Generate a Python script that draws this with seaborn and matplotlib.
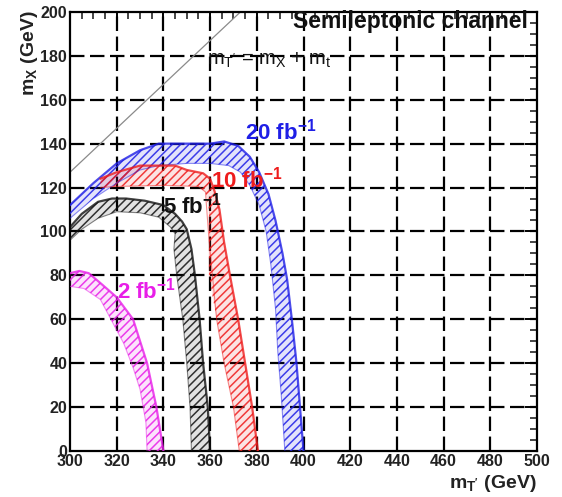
import numpy as np
import pandas as pd
import matplotlib
matplotlib.use("Agg")
import matplotlib.pyplot as plt
import seaborn as sns

# ---- data ----
blue_outer_x = [300, 310, 320, 330, 338, 350, 360, 366, 372, 377, 381, 385, 388, 391, 393, 395, 397, 398.5, 400]
blue_outer_y = [112, 122, 131, 137, 140, 140, 140, 141, 139, 134, 127, 117, 105, 90, 78, 60, 40, 20, 0]
blue_inner_x = [300, 310, 320, 330, 338, 350, 360, 368, 373, 377, 381, 384, 386, 388, 389, 390.5, 392]
blue_inner_y = [106, 115, 122, 128, 130, 131, 131, 130, 127, 121, 112, 100, 85, 65, 45, 25, 0]

red_outer_x = [313, 320, 330, 345, 350, 357, 360, 362, 364, 366, 368.5, 372, 375, 378, 380.5]
red_outer_y = [124, 127, 130, 130, 128, 126.5, 124, 118, 110, 95, 80, 60, 40, 20, 0]
red_inner_x = [313, 320, 340, 355, 358, 359.5, 359.5, 359.5, 362.8, 366, 370, 372.5]
red_inner_y = [120, 120.5, 121, 120.5, 118, 110, 100, 80, 60, 40, 20, 0]

black_outer_x = [300, 305, 312, 318, 324, 332, 340, 345, 348, 350, 352, 353.5, 355.5, 357, 359, 360]
black_outer_y = [102, 108, 113.5, 115, 115, 114, 112, 108, 104.5, 101, 92, 80, 60, 40, 20, 0]
black_inner_x = [300, 305, 312, 320, 330, 338, 343, 345, 344.5, 345.7, 348.3, 350, 351.4, 352]
black_inner_y = [96, 101, 106, 109, 108.5, 106.5, 102, 99, 92, 80, 60, 40, 20, 0]

mag_outer_x = [300, 304, 308, 313, 320, 327, 333, 337, 340]
mag_outer_y = [81, 82, 81, 76.5, 70, 60, 40, 20, 0]
mag_inner_x = [300, 306, 313, 317, 323, 327, 330, 332.5, 333]
mag_inner_y = [75, 74, 69, 61, 49, 38, 28, 13, 0]

diag_x = [300, 373]
diag_y = [127, 200]

bands = [
    ("blue", "#1f1fe6", blue_outer_x, blue_outer_y, blue_inner_x, blue_inner_y),
    ("red", "#ee1c1c", red_outer_x, red_outer_y, red_inner_x, red_inner_y),
    ("black", "#111111", black_outer_x, black_outer_y, black_inner_x, black_inner_y),
    ("magenta", "#e81ee8", mag_outer_x, mag_outer_y, mag_inner_x, mag_inner_y),
]

x_ticks = list(range(300, 501, 20))
y_ticks = list(range(0, 201, 20))

sns.set_theme(style="white")
plt.rcParams["font.family"] = ["Liberation Sans", "DejaVu Sans"]
plt.rcParams["mathtext.fontset"] = "custom"
plt.rcParams["mathtext.rm"] = "Liberation Sans"
plt.rcParams["mathtext.it"] = "Liberation Sans"
plt.rcParams["mathtext.bf"] = "Liberation Sans:bold"
plt.rcParams["hatch.linewidth"] = 1.1

fig = plt.figure(figsize=(5.62, 4.97), dpi=100)
ax = fig.add_axes([0.1246, 0.0926, 0.8309, 0.8834])

# grid
for xv in x_ticks[1:-1]:
    ax.axvline(xv, color="black", lw=1.6, ls=(0, (6.5, 2.5)), zorder=1)
for yv in y_ticks[1:-1]:
    ax.axhline(yv, color="black", lw=1.6, ls=(0, (6.5, 2.5)), zorder=1)

# diagonal line
sns.lineplot(x=diag_x, y=diag_y, color="#8a8a8a", lw=0.9, ax=ax, zorder=2)

for name, col, ox, oy, ix, iy in bands:
    px = list(ox) + list(ix)[::-1]
    py = list(oy) + list(iy)[::-1]
    ax.fill(px, py, facecolor=matplotlib.colors.to_rgba(col, 0.12),
            edgecolor=matplotlib.colors.to_rgba(col, 0.85), hatch="////", lw=0, zorder=3)
    df_o = pd.DataFrame({"x": ox, "y": oy})
    sns.lineplot(data=df_o, x="x", y="y", sort=False, color=col, lw=1.6, ax=ax, zorder=4, alpha=0.8)
    df_i = pd.DataFrame({"x": ix, "y": iy})
    sns.lineplot(data=df_i, x="x", y="y", sort=False, color=col, lw=0.8, ax=ax, zorder=4, alpha=0.5)

ax.set_xlim(300, 500)
ax.set_ylim(0, 200)
ax.set_xticks(x_ticks)
ax.set_yticks(y_ticks)
ax.set_xticks(np.arange(300, 501, 5), minor=True)
ax.set_yticks(np.arange(0, 201, 5), minor=True)
ax.tick_params(which="major", direction="in", length=9, width=1.4, top=True, right=True,
               labelsize=11.5, pad=2, colors="black")
ax.tick_params(which="minor", direction="in", length=5, width=1.2, top=True, right=True)
for lab in ax.get_xticklabels() + ax.get_yticklabels():
    lab.set_fontweight("bold")
    lab.set_color("#222222")
for s in ax.spines.values():
    s.set_color("black")
    s.set_linewidth(1.6)
ax.set_xlabel("")
ax.set_ylabel("")

# labels
ax.text(496, 195.5, "Semileptonic channel", fontsize=16.5, fontweight="bold",
        ha="right", va="center", color="#111111", zorder=6)
ax.text(358.5, 178, r"m$_{\mathrm{T'}}$ = m$_{\mathrm{X}}$ + m$_{\mathrm{t}}$", fontsize=14.5,
        ha="left", va="center", color="#111111", zorder=6)
ax.text(375, 145.5, r"20 fb$^{\mathbf{-1}}$", fontsize=16, fontweight="bold", color="#1f1fe6",
        ha="left", va="center", zorder=6)
ax.text(360.5, 123.5, r"10 fb$^{\mathbf{-1}}$", fontsize=16, fontweight="bold", color="#ee1c1c",
        ha="left", va="center", zorder=6)
ax.text(340, 112, r"5 fb$^{\mathbf{-1}}$", fontsize=16, fontweight="bold", color="#111111",
        ha="left", va="center", zorder=6)
ax.text(320, 73, r"2 fb$^{\mathbf{-1}}$", fontsize=16, fontweight="bold", color="#e81ee8",
        ha="left", va="center", zorder=6)

fig.text(0.955, 0.027, r"$\mathbf{m_{T'}}$ (GeV)", fontsize=14, fontweight="bold",
         ha="right", va="center", color="#222222")
fig.text(0.052, 0.978, r"$\mathbf{m_{X}}$ (GeV)", fontsize=14, fontweight="bold",
         ha="center", va="top", rotation=90, color="#222222")

fig.savefig("out.png", dpi=100, facecolor="white")
